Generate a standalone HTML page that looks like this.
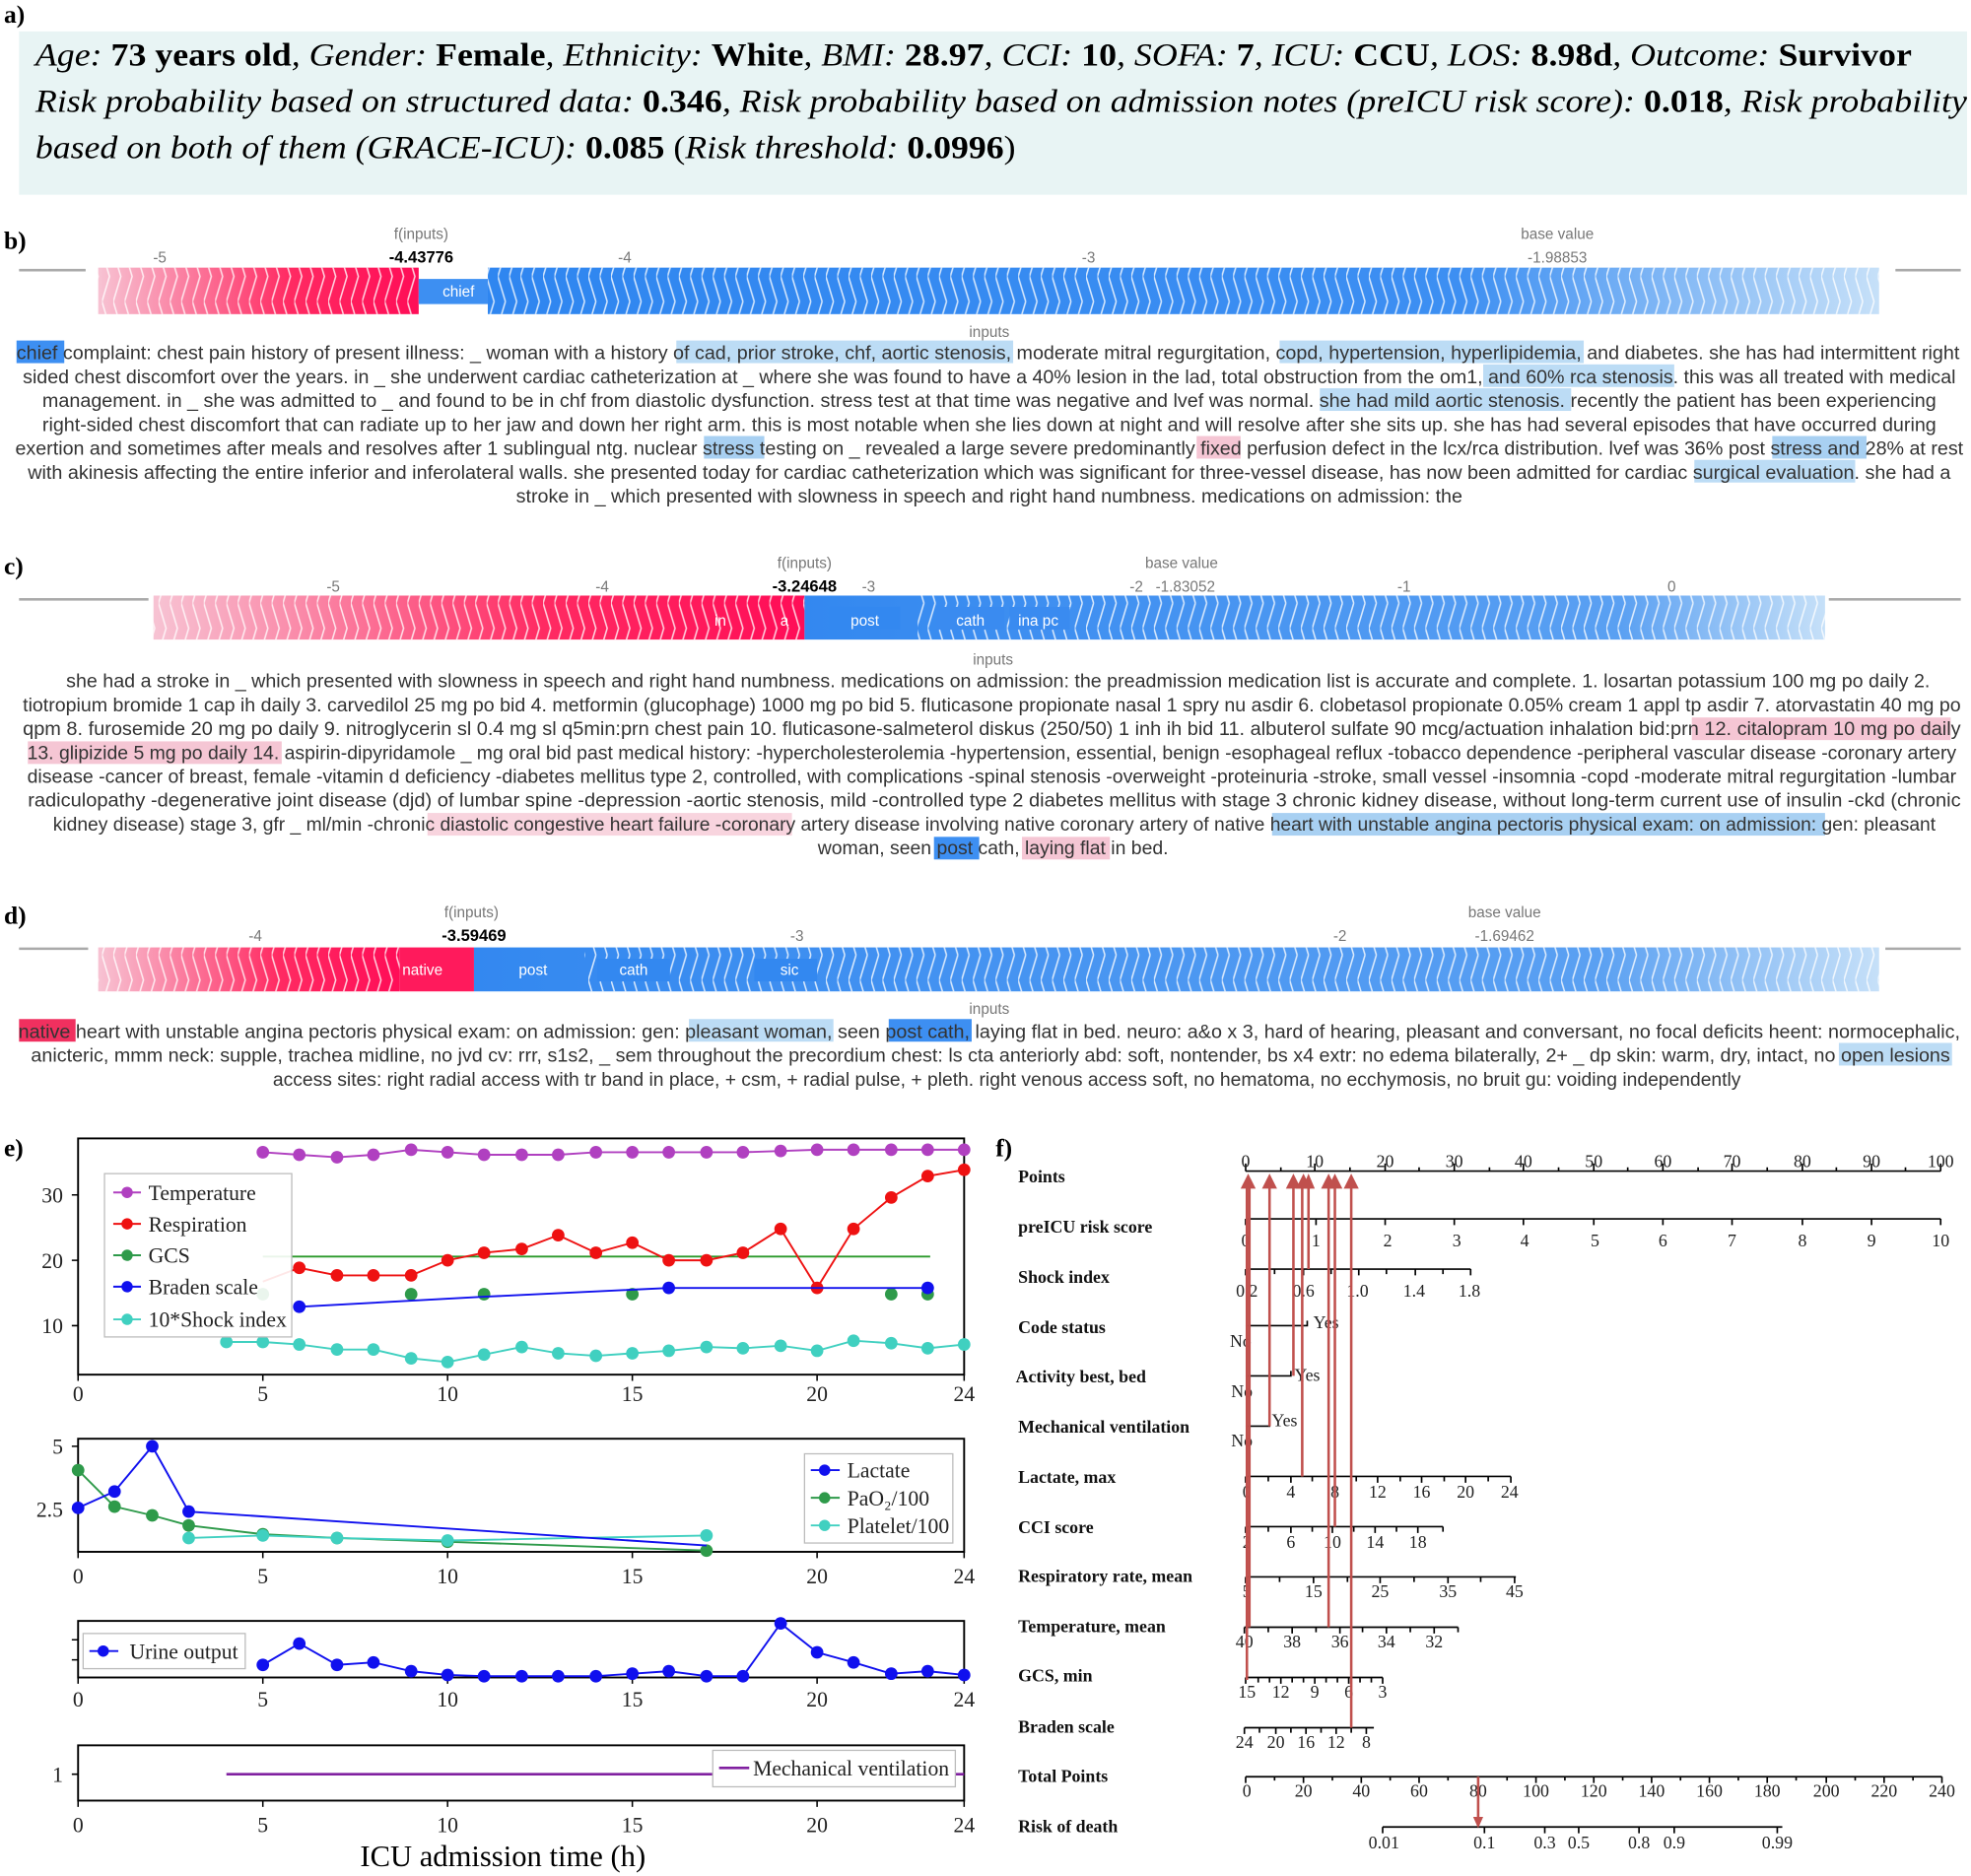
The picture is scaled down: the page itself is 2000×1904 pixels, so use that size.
<!DOCTYPE html>
<html><head><meta charset="utf-8"><style>
html,body{margin:0;padding:0;background:#fff}
svg{display:block}
.s{font-family:"Liberation Sans",sans-serif}
.r{font-family:"Liberation Serif",serif}
.tx{font-family:"Liberation Sans",sans-serif;font-size:15px;fill:#333}
.tk{font-family:"Liberation Sans",sans-serif;font-size:12px;fill:#777}
.lb{font-family:"Liberation Serif",serif;font-size:20px;fill:#000;font-weight:bold}
.ax{font-family:"Liberation Serif",serif;font-size:17px;fill:#222}
.nl{font-family:"Liberation Serif",serif;font-size:14px;font-weight:bold;fill:#111}
.nt{font-family:"Liberation Serif",serif;font-size:14px;fill:#222}
</style></head><body>
<svg width="2000" height="1904" viewBox="0 0 1568 1493" xmlns="http://www.w3.org/2000/svg">
<defs>
<pattern id="ch" width="9" height="40" patternUnits="userSpaceOnUse"><path d="M0,0 L6,20 L0,40" fill="none" stroke="#fff" stroke-width="1.2" opacity="0.8"/></pattern>
<pattern id="chl" width="9" height="40" patternUnits="userSpaceOnUse"><path d="M6,0 L0,20 L6,40" fill="none" stroke="#fff" stroke-width="1.2" opacity="0.8"/></pattern>
<linearGradient id="rg" x1="0" x2="1"><stop offset="0" stop-color="#f7c3d3"/><stop offset="0.6" stop-color="#ff2a62"/><stop offset="1" stop-color="#ff0d57"/></linearGradient>
<linearGradient id="bg" x1="0" x2="1"><stop offset="0" stop-color="#2f86f0"/><stop offset="0.7" stop-color="#3d8ff2"/><stop offset="1" stop-color="#c6e0f8"/></linearGradient>
<linearGradient id="bg2" x1="0" x2="1"><stop offset="0" stop-color="#3388f0"/><stop offset="0.8" stop-color="#5aa0f2"/><stop offset="1" stop-color="#c6e0f8"/></linearGradient>
</defs>

<!-- a -->
<rect x="15" y="25" width="1550" height="130" fill="#e8f4f4"/>
<text x="3" y="18" class="lb">a)</text>
<g class="r" font-size="26" fill="#000">
<text x="28" y="52" font-style="italic" textLength="1493" lengthAdjust="spacingAndGlyphs">Age: <tspan font-weight="bold" font-style="normal">73 years old</tspan>, Gender: <tspan font-weight="bold" font-style="normal">Female</tspan>, Ethnicity: <tspan font-weight="bold" font-style="normal">White</tspan>, BMI: <tspan font-weight="bold" font-style="normal">28.97</tspan>, CCI: <tspan font-weight="bold" font-style="normal">10</tspan>, SOFA: <tspan font-weight="bold" font-style="normal">7</tspan>, ICU: <tspan font-weight="bold" font-style="normal">CCU</tspan>, LOS: <tspan font-weight="bold" font-style="normal">8.98d</tspan>, Outcome: <tspan font-weight="bold" font-style="normal">Survivor</tspan></text>
<text x="28" y="89" font-style="italic" textLength="1537" lengthAdjust="spacingAndGlyphs">Risk probability based on structured data: <tspan font-weight="bold" font-style="normal">0.346</tspan>, Risk probability based on admission notes (preICU risk score): <tspan font-weight="bold" font-style="normal">0.018</tspan>, Risk probability</text>
<text x="28" y="126" font-style="italic" textLength="780" lengthAdjust="spacingAndGlyphs">based on both of them (GRACE-ICU): <tspan font-weight="bold" font-style="normal">0.085</tspan> <tspan font-style="normal">(</tspan>Risk threshold: <tspan font-weight="bold" font-style="normal">0.0996</tspan><tspan font-style="normal">)</tspan></text>
</g>

<!-- b -->
<text x="3" y="198" class="lb">b)</text>
<line x1="15" y1="215" x2="68" y2="215" stroke="#aaa" stroke-width="2"/>
<line x1="1508" y1="215" x2="1560" y2="215" stroke="#aaa" stroke-width="2"/>
<g class="tk" text-anchor="middle">
<text x="335" y="190">f(inputs)</text><text x="335" y="209" font-weight="bold" fill="#000" font-size="13">-4.43776</text>
<text x="127" y="209">-5</text><text x="497" y="209">-4</text><text x="866" y="209">-3</text>
<text x="1239" y="190">base value</text><text x="1239" y="209">-1.98853</text>
<text x="787" y="268">inputs</text></g>
<rect x="78" y="213" width="255" height="37" fill="url(#rg)"/><rect x="78" y="213" width="255" height="37" fill="url(#ch)"/>
<rect x="333" y="222" width="55" height="20" fill="#3d8ff2"/>
<rect x="388" y="213" width="1107" height="37" fill="url(#bg)"/><rect x="388" y="213" width="1107" height="37" fill="url(#chl)"/>
<text x="352" y="236" class="s" font-size="12" fill="#fff">chief</text>
<g class="tx" text-anchor="middle">
<rect x="13" y="271" width="38" height="18" fill="#3d8ff2"/>
<rect x="538" y="271" width="268" height="18" fill="#bcdcf5"/><rect x="1018" y="271" width="242" height="18" fill="#bcdcf5"/>
<rect x="1180" y="290" width="152" height="18" fill="#bcdcf5"/><rect x="1050" y="309" width="200" height="18" fill="#bcdcf5"/>
<rect x="560" y="347" width="48" height="18" fill="#a8d0f2"/><rect x="1410" y="347" width="75" height="18" fill="#a8d0f2"/>
<rect x="952" y="347" width="35" height="18" fill="#f5c6d4"/><rect x="1348" y="366" width="128" height="18" fill="#bcdcf5"/>
<text x="786" y="286" textLength="1546" lengthAdjust="spacingAndGlyphs">chief complaint: chest pain history of present illness: _ woman with a history of cad, prior stroke, chf, aortic stenosis, moderate mitral regurgitation, copd, hypertension, hyperlipidemia, and diabetes. she has had intermittent right</text>
<text x="787" y="305" textLength="1538" lengthAdjust="spacingAndGlyphs">sided chest discomfort over the years. in _ she underwent cardiac catheterization at _ where she was found to have a 40% lesion in the lad, total obstruction from the om1, and 60% rca stenosis. this was all treated with medical</text>
<text x="787" y="324" textLength="1507" lengthAdjust="spacingAndGlyphs">management. in _ she was admitted to _ and found to be in chf from diastolic dysfunction. stress test at that time was negative and lvef was normal. she had mild aortic stenosis. recently the patient has been experiencing</text>
<text x="787" y="343" textLength="1507" lengthAdjust="spacingAndGlyphs">right-sided chest discomfort that can radiate up to her jaw and down her right arm. this is most notable when she lies down at night and will resolve after she sits up. she has had several episodes that have occurred during</text>
<text x="787" y="362" textLength="1550" lengthAdjust="spacingAndGlyphs">exertion and sometimes after meals and resolves after 1 sublingual ntg. nuclear stress testing on _ revealed a large severe predominantly fixed perfusion defect in the lcx/rca distribution. lvef was 36% post stress and 28% at rest</text>
<text x="787" y="381" textLength="1530" lengthAdjust="spacingAndGlyphs">with akinesis affecting the entire inferior and inferolateral walls. she presented today for cardiac catheterization which was significant for three-vessel disease, has now been admitted for cardiac surgical evaluation. she had a</text>
<text x="787" y="400" textLength="753" lengthAdjust="spacingAndGlyphs">stroke in _ which presented with slowness in speech and right hand numbness. medications on admission: the</text>
</g>

<!-- c -->
<text x="3" y="457" class="lb">c)</text>
<line x1="15" y1="477" x2="118" y2="477" stroke="#aaa" stroke-width="2"/>
<line x1="1455" y1="477" x2="1560" y2="477" stroke="#aaa" stroke-width="2"/>
<g class="tk" text-anchor="middle">
<text x="640" y="452">f(inputs)</text><text x="640" y="471" font-weight="bold" fill="#000" font-size="13">-3.24648</text>
<text x="265" y="471">-5</text><text x="479" y="471">-4</text><text x="691" y="471">-3</text><text x="904" y="471">-2</text><text x="1117" y="471">-1</text><text x="1330" y="471">0</text>
<text x="940" y="452">base value</text><text x="943" y="471">-1.83052</text>
<text x="790" y="529">inputs</text></g>
<rect x="122" y="474" width="518" height="35" fill="url(#rg)"/><rect x="122" y="474" width="518" height="35" fill="url(#ch)"/>
<rect x="640" y="474" width="812" height="35" fill="url(#bg2)"/><rect x="730" y="474" width="722" height="35" fill="url(#chl)"/>
<rect x="660" y="483" width="56" height="18" fill="#3388f0"/><rect x="745" y="483" width="54" height="18" fill="#3a8bf0"/><rect x="803" y="483" width="48" height="18" fill="#3a8bf0"/>
<g class="s" font-size="12" fill="#fff" text-anchor="middle"><text x="688" y="498">post</text><text x="772" y="498">cath</text><text x="826" y="498">ina pc</text><text x="573" y="498">in</text><text x="624" y="498">a</text></g>
<g class="tx" text-anchor="middle">
<rect x="1346" y="571" width="206" height="18" fill="#f5c6d4"/><rect x="22" y="590" width="202" height="18" fill="#f5c6d4"/>
<rect x="1012" y="647" width="440" height="18" fill="#a8d0f2"/>
<rect x="340" y="647" width="290" height="18" fill="#f8d4de"/>
<rect x="743" y="666" width="36" height="18" fill="#3d8ff2"/><rect x="813" y="666" width="70" height="18" fill="#f5c6d4"/>
<text x="794" y="547" textLength="1483" lengthAdjust="spacingAndGlyphs">she had a stroke in _ which presented with slowness in speech and right hand numbness. medications on admission: the preadmission medication list is accurate and complete. 1. losartan potassium 100 mg po daily 2.</text>
<text x="789" y="566" textLength="1542" lengthAdjust="spacingAndGlyphs">tiotropium bromide 1 cap ih daily 3. carvedilol 25 mg po bid 4. metformin (glucophage) 1000 mg po bid 5. fluticasone propionate nasal 1 spry nu asdir 6. clobetasol propionate 0.05% cream 1 appl tp asdir 7. atorvastatin 40 mg po</text>
<text x="789" y="585" textLength="1542" lengthAdjust="spacingAndGlyphs">qpm 8. furosemide 20 mg po daily 9. nitroglycerin sl 0.4 mg sl q5min:prn chest pain 10. fluticasone-salmeterol diskus (250/50) 1 inh ih bid 11. albuterol sulfate 90 mcg/actuation inhalation bid:prn 12. citalopram 10 mg po daily</text>
<text x="789" y="604" textLength="1535" lengthAdjust="spacingAndGlyphs">13. glipizide 5 mg po daily 14. aspirin-dipyridamole _ mg oral bid past medical history: -hypercholesterolemia -hypertension, essential, benign -esophageal reflux -tobacco dependence -peripheral vascular disease -coronary artery</text>
<text x="789" y="623" textLength="1535" lengthAdjust="spacingAndGlyphs">disease -cancer of breast, female -vitamin d deficiency -diabetes mellitus type 2, controlled, with complications -spinal stenosis -overweight -proteinuria -stroke, small vessel -insomnia -copd -moderate mitral regurgitation -lumbar</text>
<text x="791" y="642" textLength="1538" lengthAdjust="spacingAndGlyphs">radiculopathy -degenerative joint disease (djd) of lumbar spine -depression -aortic stenosis, mild -controlled type 2 diabetes mellitus with stage 3 chronic kidney disease, without long-term current use of insulin -ckd (chronic</text>
<text x="791" y="661" textLength="1498" lengthAdjust="spacingAndGlyphs">kidney disease) stage 3, gfr _ ml/min -chronic diastolic congestive heart failure -coronary artery disease involving native coronary artery of native heart with unstable angina pectoris physical exam: on admission: gen: pleasant</text>
<text x="790" y="680" textLength="279" lengthAdjust="spacingAndGlyphs">woman, seen post cath, laying flat in bed.</text>
</g>

<!-- d -->
<text x="3" y="735" class="lb">d)</text>
<line x1="15" y1="755" x2="70" y2="755" stroke="#aaa" stroke-width="2"/>
<line x1="1500" y1="755" x2="1560" y2="755" stroke="#aaa" stroke-width="2"/>
<g class="tk" text-anchor="middle">
<text x="375" y="730">f(inputs)</text><text x="377" y="749" font-weight="bold" fill="#000" font-size="13">-3.59469</text>
<text x="203" y="749">-4</text><text x="634" y="749">-3</text><text x="1066" y="749">-2</text>
<text x="1197" y="730">base value</text><text x="1197" y="749">-1.69462</text>
<text x="787" y="807">inputs</text></g>
<rect x="78" y="754" width="240" height="35" fill="url(#rg)"/><rect x="78" y="754" width="240" height="35" fill="url(#ch)"/>
<rect x="318" y="754" width="59" height="35" fill="#ff1a5c"/>
<rect x="377" y="754" width="1118" height="35" fill="url(#bg2)"/><rect x="465" y="754" width="1030" height="35" fill="url(#chl)"/>
<rect x="475" y="763" width="58" height="18" fill="#3388f0"/><rect x="600" y="763" width="50" height="18" fill="#3388f0"/>
<g class="s" font-size="12" fill="#fff" text-anchor="middle"><text x="336" y="776">native</text><text x="424" y="776">post</text><text x="504" y="776">cath</text><text x="628" y="776">sic</text></g>
<g class="tx" text-anchor="middle">
<rect x="15" y="811" width="45" height="18" fill="#f0305f"/><rect x="707" y="811" width="66" height="18" fill="#3d8ff2"/>
<rect x="548" y="811" width="115" height="18" fill="#bcdcf5"/><rect x="1463" y="830" width="90" height="18" fill="#bcdcf5"/>
<text x="787" y="826" textLength="1545" lengthAdjust="spacingAndGlyphs">native heart with unstable angina pectoris physical exam: on admission: gen: pleasant woman, seen post cath, laying flat in bed. neuro: a&amp;o x 3, hard of hearing, pleasant and conversant, no focal deficits heent: normocephalic,</text>
<text x="788" y="845" textLength="1527" lengthAdjust="spacingAndGlyphs">anicteric, mmm neck: supple, trachea midline, no jvd cv: rrr, s1s2, _ sem throughout the precordium chest: ls cta anteriorly abd: soft, nontender, bs x4 extr: no edema bilaterally, 2+ _ dp skin: warm, dry, intact, no open lesions</text>
<text x="801" y="864" textLength="1168" lengthAdjust="spacingAndGlyphs">access sites: right radial access with tr band in place, + csm, + radial pulse, + pleth. right venous access soft, no hematoma, no ecchymosis, no bruit gu: voiding independently</text>
</g>

<!-- e -->
<text x="3" y="920" class="lb">e)</text>
<g fill="none" stroke="#000" stroke-width="1.5">
<rect x="62" y="906" width="705" height="188"/>
<rect x="62" y="1145" width="705" height="90"/>
<rect x="62" y="1290" width="705" height="45"/>
<rect x="62" y="1389" width="705" height="44"/>
</g>
<g stroke="#000" stroke-width="1.2">
<path d="M62,1094v5M209,1094v5M356,1094v5M503,1094v5M650,1094v5M767,1094v5M62,951h-5M62,1003h-5M62,1055h-5"/>
<path d="M62,1235v5M209,1235v5M356,1235v5M503,1235v5M650,1235v5M767,1235v5M62,1151h-5M62,1201h-5"/>
<path d="M62,1335v5M209,1335v5M356,1335v5M503,1335v5M650,1335v5M767,1335v5M62,1305h-5M62,1321h-5"/>
<path d="M62,1433v5M209,1433v5M356,1433v5M503,1433v5M650,1433v5M767,1433v5M62,1412h-5"/>
</g>
<g class="ax" text-anchor="middle">
<text x="62" y="1115">0</text><text x="209" y="1115">5</text><text x="356" y="1115">10</text><text x="503" y="1115">15</text><text x="650" y="1115">20</text><text x="767" y="1115">24</text>
<text x="62" y="1260">0</text><text x="209" y="1260">5</text><text x="356" y="1260">10</text><text x="503" y="1260">15</text><text x="650" y="1260">20</text><text x="767" y="1260">24</text>
<text x="62" y="1358">0</text><text x="209" y="1358">5</text><text x="356" y="1358">10</text><text x="503" y="1358">15</text><text x="650" y="1358">20</text><text x="767" y="1358">24</text>
<text x="62" y="1458">0</text><text x="209" y="1458">5</text><text x="356" y="1458">10</text><text x="503" y="1458">15</text><text x="650" y="1458">20</text><text x="767" y="1458">24</text>
</g>
<g class="ax" text-anchor="end">
<text x="50" y="957">30</text><text x="50" y="1009">20</text><text x="50" y="1061">10</text>
<text x="50" y="1157">5</text><text x="50" y="1207">2.5</text><text x="50" y="1418">1</text>
</g>
<text x="400" y="1485" class="r" font-size="24" text-anchor="middle">ICU admission time (h)</text>

<polyline fill="none" stroke="#b040c0" stroke-width="1.5" points="209,917 238,919 268,921 297,919 327,915 356,917 385,919 415,919 444,919 474,917 503,917 532,917 562,917 591,917 621,916 650,915 679,915 709,915 738,915 767,915"/>
<g fill="#b040c0"><circle cx="209" cy="917" r="5"/><circle cx="238" cy="919" r="5"/><circle cx="268" cy="921" r="5"/><circle cx="297" cy="919" r="5"/><circle cx="327" cy="915" r="5"/><circle cx="356" cy="917" r="5"/><circle cx="385" cy="919" r="5"/><circle cx="415" cy="919" r="5"/><circle cx="444" cy="919" r="5"/><circle cx="474" cy="917" r="5"/><circle cx="503" cy="917" r="5"/><circle cx="532" cy="917" r="5"/><circle cx="562" cy="917" r="5"/><circle cx="591" cy="917" r="5"/><circle cx="621" cy="916" r="5"/><circle cx="650" cy="915" r="5"/><circle cx="679" cy="915" r="5"/><circle cx="709" cy="915" r="5"/><circle cx="738" cy="915" r="5"/><circle cx="767" cy="915" r="5"/></g>
<line x1="209" y1="1000" x2="740" y2="1000" stroke="#2a9a2a" stroke-width="1.5"/>
<polyline fill="none" stroke="#ee1111" stroke-width="1.5" points="209,1020 238,1009 268,1015 297,1015 327,1015 356,1003 385,997 415,994 444,983 474,997 503,989 532,1003 562,1003 591,997 621,978 650,1025 679,978 709,953 738,936 767,931"/>
<g fill="#ee1111"><circle cx="238" cy="1009" r="5"/><circle cx="268" cy="1015" r="5"/><circle cx="297" cy="1015" r="5"/><circle cx="327" cy="1015" r="5"/><circle cx="356" cy="1003" r="5"/><circle cx="385" cy="997" r="5"/><circle cx="415" cy="994" r="5"/><circle cx="444" cy="983" r="5"/><circle cx="474" cy="997" r="5"/><circle cx="503" cy="989" r="5"/><circle cx="532" cy="1003" r="5"/><circle cx="562" cy="1003" r="5"/><circle cx="591" cy="997" r="5"/><circle cx="621" cy="978" r="5"/><circle cx="650" cy="1025" r="5"/><circle cx="679" cy="978" r="5"/><circle cx="709" cy="953" r="5"/><circle cx="738" cy="936" r="5"/><circle cx="767" cy="931" r="5"/></g>
<g fill="#2e9a4a"><circle cx="209" cy="1030" r="5"/><circle cx="327" cy="1030" r="5"/><circle cx="385" cy="1030" r="5"/><circle cx="503" cy="1030" r="5"/><circle cx="709" cy="1030" r="5"/><circle cx="738" cy="1030" r="5"/></g>
<polyline fill="none" stroke="#1010ee" stroke-width="1.5" points="238,1040 385,1032 532,1025 738,1025"/>
<g fill="#1010ee"><circle cx="238" cy="1040" r="5"/><circle cx="532" cy="1025" r="5"/><circle cx="738" cy="1025" r="5"/></g>
<polyline fill="none" stroke="#40d0c0" stroke-width="1.5" points="180,1068 209,1068 238,1070 268,1074 297,1074 327,1081 356,1084 385,1078 415,1072 444,1077 474,1079 503,1077 532,1075 562,1072 591,1073 621,1071 650,1075 679,1067 709,1069 738,1073 767,1070"/>
<g fill="#40d0c0"><circle cx="180" cy="1068" r="5"/><circle cx="209" cy="1068" r="5"/><circle cx="238" cy="1070" r="5"/><circle cx="268" cy="1074" r="5"/><circle cx="297" cy="1074" r="5"/><circle cx="327" cy="1081" r="5"/><circle cx="356" cy="1084" r="5"/><circle cx="385" cy="1078" r="5"/><circle cx="415" cy="1072" r="5"/><circle cx="444" cy="1077" r="5"/><circle cx="474" cy="1079" r="5"/><circle cx="503" cy="1077" r="5"/><circle cx="532" cy="1075" r="5"/><circle cx="562" cy="1072" r="5"/><circle cx="591" cy="1073" r="5"/><circle cx="621" cy="1071" r="5"/><circle cx="650" cy="1075" r="5"/><circle cx="679" cy="1067" r="5"/><circle cx="709" cy="1069" r="5"/><circle cx="738" cy="1073" r="5"/><circle cx="767" cy="1070" r="5"/></g>
<rect x="83" y="934" width="149" height="130" fill="#fff" fill-opacity="0.9" stroke="#bbb"/>
<g stroke-width="1.5">
<line x1="90" y1="949" x2="112" y2="949" stroke="#b040c0"/><circle cx="101" cy="949" r="4.5" fill="#b040c0"/>
<line x1="90" y1="974" x2="112" y2="974" stroke="#ee1111"/><circle cx="101" cy="974" r="4.5" fill="#ee1111"/>
<line x1="90" y1="999" x2="112" y2="999" stroke="#2e9a4a"/><circle cx="101" cy="999" r="4.5" fill="#2e9a4a"/>
<line x1="90" y1="1024" x2="112" y2="1024" stroke="#1010ee"/><circle cx="101" cy="1024" r="4.5" fill="#1010ee"/>
<line x1="90" y1="1050" x2="112" y2="1050" stroke="#40d0c0"/><circle cx="101" cy="1050" r="4.5" fill="#40d0c0"/>
</g>
<g class="ax" font-size="16"><text x="118" y="955">Temperature</text><text x="118" y="980">Respiration</text><text x="118" y="1005">GCS</text><text x="118" y="1030">Braden scale</text><text x="118" y="1056">10*Shock index</text></g>

<polyline fill="none" stroke="#2e9a4a" stroke-width="1.5" points="62,1170 91,1199 121,1206 150,1214 209,1221 268,1224 356,1227 562,1234"/>
<g fill="#2e9a4a"><circle cx="62" cy="1170" r="5"/><circle cx="91" cy="1199" r="5"/><circle cx="121" cy="1206" r="5"/><circle cx="150" cy="1214" r="5"/><circle cx="209" cy="1221" r="5"/><circle cx="268" cy="1224" r="5"/><circle cx="356" cy="1227" r="5"/><circle cx="562" cy="1234" r="5"/></g>
<polyline fill="none" stroke="#40d0c0" stroke-width="1.5" points="150,1224 209,1222 268,1224 356,1226 562,1222"/>
<g fill="#40d0c0"><circle cx="150" cy="1224" r="5"/><circle cx="209" cy="1222" r="5"/><circle cx="268" cy="1224" r="5"/><circle cx="356" cy="1226" r="5"/><circle cx="562" cy="1222" r="5"/></g>
<polyline fill="none" stroke="#1010ee" stroke-width="1.5" points="62,1200 91,1187 121,1151 150,1203 562,1230"/>
<g fill="#1010ee"><circle cx="62" cy="1200" r="5"/><circle cx="91" cy="1187" r="5"/><circle cx="121" cy="1151" r="5"/><circle cx="150" cy="1203" r="5"/></g>
<rect x="640" y="1157" width="118" height="71" fill="#fff" stroke="#bbb"/>
<line x1="645" y1="1170" x2="668" y2="1170" stroke="#1010ee" stroke-width="1.5"/><circle cx="656" cy="1170" r="4.5" fill="#1010ee"/>
<line x1="645" y1="1192" x2="668" y2="1192" stroke="#2e9a4a" stroke-width="1.5"/><circle cx="656" cy="1192" r="4.5" fill="#2e9a4a"/>
<line x1="645" y1="1214" x2="668" y2="1214" stroke="#40d0c0" stroke-width="1.5"/><circle cx="656" cy="1214" r="4.5" fill="#40d0c0"/>
<g class="ax" font-size="16"><text x="674" y="1176">Lactate</text><text x="674" y="1198">PaO₂/100</text><text x="674" y="1220">Platelet/100</text></g>

<polyline fill="none" stroke="#1010ee" stroke-width="1.5" points="209,1325 238,1308 268,1325 297,1323 327,1330 356,1333 385,1334 415,1334 444,1334 474,1334 503,1332 532,1330 562,1334 591,1334 621,1292 650,1315 679,1323 709,1332 738,1330 767,1333"/>
<g fill="#1010ee"><circle cx="209" cy="1325" r="5"/><circle cx="238" cy="1308" r="5"/><circle cx="268" cy="1325" r="5"/><circle cx="297" cy="1323" r="5"/><circle cx="327" cy="1330" r="5"/><circle cx="356" cy="1333" r="5"/><circle cx="385" cy="1334" r="5"/><circle cx="415" cy="1334" r="5"/><circle cx="444" cy="1334" r="5"/><circle cx="474" cy="1334" r="5"/><circle cx="503" cy="1332" r="5"/><circle cx="532" cy="1330" r="5"/><circle cx="562" cy="1334" r="5"/><circle cx="591" cy="1334" r="5"/><circle cx="621" cy="1292" r="5"/><circle cx="650" cy="1315" r="5"/><circle cx="679" cy="1323" r="5"/><circle cx="709" cy="1332" r="5"/><circle cx="738" cy="1330" r="5"/><circle cx="767" cy="1333" r="5"/></g>
<rect x="66" y="1300" width="129" height="28" fill="#fff" stroke="#bbb"/>
<line x1="71" y1="1314" x2="94" y2="1314" stroke="#1010ee" stroke-width="1.5"/><circle cx="82" cy="1314" r="4.5" fill="#1010ee"/>
<text x="103" y="1320" class="ax" font-size="16">Urine output</text>

<line x1="180" y1="1412" x2="767" y2="1412" stroke="#8020a0" stroke-width="2"/>
<rect x="567" y="1393" width="193" height="29" fill="#fff" stroke="#bbb"/>
<line x1="572" y1="1407" x2="596" y2="1407" stroke="#8020a0" stroke-width="2"/>
<text x="599" y="1413" class="ax" font-size="16">Mechanical ventilation</text>

<!-- f -->
<text x="792" y="920" class="lb">f)</text>
<g class="nl">
<text x="810" y="941">Points</text><text x="810" y="981">preICU risk score</text><text x="810" y="1021">Shock index</text><text x="810" y="1061">Code status</text>
<text x="808" y="1100">Activity best, bed</text><text x="810" y="1140">Mechanical ventilation</text><text x="810" y="1180">Lactate, max</text><text x="810" y="1220">CCI score</text>
<text x="810" y="1259">Respiratory rate, mean</text><text x="810" y="1299">Temperature, mean</text><text x="810" y="1338">GCS, min</text><text x="810" y="1379">Braden scale</text>
<text x="810" y="1418">Total Points</text><text x="810" y="1458">Risk of death</text>
</g>
<g stroke="#000" stroke-width="1.3" fill="none">
<path d="M991,932H1544M991,932v-6M1046,932v-6M1102,932v-6M1157,932v-6M1212,932v-6M1268,932v-6M1323,932v-6M1378,932v-6M1434,932v-6M1489,932v-6M1544,932v-6M1019,932v-3M1074,932v-3M1129,932v-3M1185,932v-3M1240,932v-3M1295,932v-3M1351,932v-3M1406,932v-3M1461,932v-3M1516,932v-3"/>
<path d="M991,970H1544M991,970v5M1047,970v5M1102,970v5M1157,970v5M1212,970v5M1268,970v5M1323,970v5M1378,970v5M1434,970v5M1489,970v5M1544,970v5"/>
<path d="M991,1010H1170M991,1010v5M1014,1010v4M1037,1010v5M1059,1010v4M1081,1010v5M1103,1010v4M1126,1010v5M1148,1010v4M1170,1010v5"/>
<path d="M991,1055H1040v-4M991,1095H1027v-4M991,1135H1010v-4"/>
<path d="M991,1175H1202M991,1175v5M1009,1175v4M1027,1175v5M1044,1175v4M1062,1175v5M1079,1175v4M1096,1175v5M1114,1175v4M1131,1175v5M1149,1175v4M1166,1175v5M1184,1175v4M1202,1175v5"/>
<path d="M991,1215H1148M991,1215v5M1009,1215v4M1027,1215v5M1044,1215v4M1060,1215v5M1077,1215v4M1094,1215v5M1111,1215v4M1128,1215v5M1148,1215v4"/>
<path d="M991,1255H1206M991,1255v5M1018,1255v4M1045,1255v5M1072,1255v4M1098,1255v5M1125,1255v4M1152,1255v5M1178,1255v4M1205,1255v5"/>
<path d="M990,1295H1160M990,1295v5M1009,1295v4M1028,1295v5M1047,1295v4M1066,1295v5M1084,1295v4M1103,1295v5M1122,1295v4M1141,1295v5M1160,1295v4"/>
<path d="M991,1335H1100M991,1335v5M1001,1335v4M1010,1335v4M1019,1335v5M1028,1335v4M1037,1335v4M1046,1335v5M1055,1335v4M1064,1335v4M1073,1335v5M1082,1335v4M1091,1335v4M1100,1335v5"/>
<path d="M990,1375H1093M990,1375v5M1002,1375v4M1015,1375v5M1027,1375v4M1039,1375v5M1051,1375v4M1063,1375v5M1075,1375v4M1087,1375v5"/>
<path d="M991,1414H1545M991,1414v5M1037,1414v5M1083,1414v5M1129,1414v5M1176,1414v5M1222,1414v5M1268,1414v5M1314,1414v5M1360,1414v5M1406,1414v5M1453,1414v5M1499,1414v5M1545,1414v5M1014,1414v3M1060,1414v3M1106,1414v3M1152,1414v3M1199,1414v3M1245,1414v3M1291,1414v3M1337,1414v3M1383,1414v3M1429,1414v3M1476,1414v3M1522,1414v3"/>
<path d="M1100,1454H1418M1100,1454v5M1181,1454v5M1229,1454v5M1256,1454v5M1304,1454v5M1332,1454v5M1414,1454v5"/>
</g>
<g class="nt" text-anchor="middle">
<text x="991" y="929">0</text><text x="1046" y="929">10</text><text x="1102" y="929">20</text><text x="1157" y="929">30</text><text x="1212" y="929">40</text><text x="1268" y="929">50</text><text x="1323" y="929">60</text><text x="1378" y="929">70</text><text x="1434" y="929">80</text><text x="1489" y="929">90</text><text x="1544" y="929">100</text>
<text x="991" y="992">0</text><text x="1047" y="992">1</text><text x="1104" y="992">2</text><text x="1159" y="992">3</text><text x="1213" y="992">4</text><text x="1269" y="992">5</text><text x="1323" y="992">6</text><text x="1378" y="992">7</text><text x="1434" y="992">8</text><text x="1489" y="992">9</text><text x="1544" y="992">10</text>
<text x="992" y="1032">0.2</text><text x="1037" y="1032">0.6</text><text x="1080" y="1032">1.0</text><text x="1125" y="1032">1.4</text><text x="1169" y="1032">1.8</text>
<text x="987" y="1072">No</text><text x="1055" y="1057">Yes</text>
<text x="988" y="1112">No</text><text x="1040" y="1099">Yes</text>
<text x="988" y="1151">No</text><text x="1022" y="1135">Yes</text>
<text x="992" y="1192">0</text><text x="1027" y="1192">4</text><text x="1062" y="1192">8</text><text x="1096" y="1192">12</text><text x="1131" y="1192">16</text><text x="1166" y="1192">20</text><text x="1201" y="1192">24</text>
<text x="992" y="1232">2</text><text x="1027" y="1232">6</text><text x="1060" y="1232">10</text><text x="1094" y="1232">14</text><text x="1128" y="1232">18</text>
<text x="992" y="1271">5</text><text x="1045" y="1271">15</text><text x="1098" y="1271">25</text><text x="1152" y="1271">35</text><text x="1205" y="1271">45</text>
<text x="990" y="1311">40</text><text x="1028" y="1311">38</text><text x="1066" y="1311">36</text><text x="1103" y="1311">34</text><text x="1141" y="1311">32</text>
<text x="992" y="1351">15</text><text x="1019" y="1351">12</text><text x="1046" y="1351">9</text><text x="1073" y="1351">6</text><text x="1100" y="1351">3</text>
<text x="990" y="1391">24</text><text x="1015" y="1391">20</text><text x="1039" y="1391">16</text><text x="1063" y="1391">12</text><text x="1087" y="1391">8</text>
<text x="992" y="1430">0</text><text x="1037" y="1430">20</text><text x="1083" y="1430">40</text><text x="1129" y="1430">60</text><text x="1176" y="1430">80</text><text x="1222" y="1430">100</text><text x="1268" y="1430">120</text><text x="1314" y="1430">140</text><text x="1360" y="1430">160</text><text x="1406" y="1430">180</text><text x="1453" y="1430">200</text><text x="1499" y="1430">220</text><text x="1545" y="1430">240</text>
<text x="1101" y="1471">0.01</text><text x="1181" y="1471">0.1</text><text x="1229" y="1471">0.3</text><text x="1256" y="1471">0.5</text><text x="1304" y="1471">0.8</text><text x="1332" y="1471">0.9</text><text x="1414" y="1471">0.99</text>
</g>
<g stroke="#c0504d" stroke-width="2" fill="none">
<line x1="992" y1="1337" x2="992" y2="945"/>
<line x1="994" y1="1295" x2="994" y2="945"/>
<line x1="1010" y1="1135" x2="1010" y2="945"/>
<line x1="1029" y1="1095" x2="1029" y2="945"/>
<line x1="1036" y1="1175" x2="1036" y2="945"/>
<line x1="1041" y1="1010" x2="1041" y2="945"/>
<line x1="1057" y1="1295" x2="1057" y2="945"/>
<line x1="1062" y1="1215" x2="1062" y2="945"/>
<line x1="1075" y1="1375" x2="1075" y2="945"/>
</g>
<g fill="#c0504d">
<path d="M987,946 L993,934 L999,946z"/>
<path d="M1004,946 L1010,934 L1016,946z"/>
<path d="M1023,946 L1029,934 L1035,946z"/>
<path d="M1031,946 L1037,934 L1043,946z"/>
<path d="M1036,946 L1041,934 L1046,946z"/>
<path d="M1051,946 L1057,934 L1063,946z"/>
<path d="M1056,946 L1062,934 L1068,946z"/>
<path d="M1069,946 L1075,934 L1081,946z"/>
</g>
<line x1="1176" y1="1414" x2="1176" y2="1448" stroke="#c0504d" stroke-width="2"/>
<path d="M1172,1446 L1180,1446 L1176,1455z" fill="#c0504d"/>
</svg>
</body></html>
